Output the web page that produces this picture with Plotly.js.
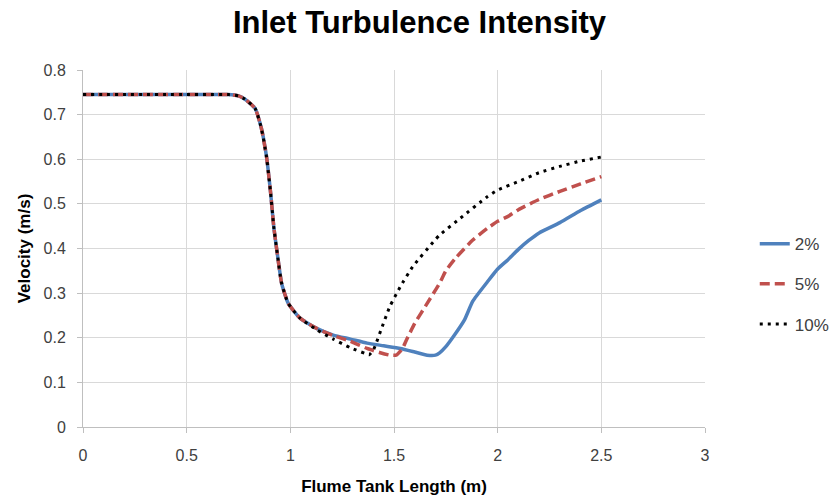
<!DOCTYPE html>
<html><head><meta charset="utf-8">
<script src="https://cdn.plot.ly/plotly-3.0.1.min.js"></script>
<style>body{margin:0;background:#fff}#chart{width:839px;height:497px}</style>
</head><body><div id="chart"></div>
<script>
const x2 = [0,0.1,0.2,0.3,0.4,0.5,0.6,0.7,0.75,0.78,0.83,0.86,0.885,0.905,0.92,0.937,0.958,0.99,1.047,1.127,1.207,1.29,1.37,1.45,1.53,1.6,1.66,1.7,1.72,1.75,1.79,1.84,1.88,1.95,2.0,2.05,2.1,2.15,2.2,2.3,2.4,2.5];
const v2 = [0.745,0.745,0.745,0.745,0.745,0.745,0.745,0.745,0.742,0.735,0.714,0.67,0.606,0.524,0.449,0.389,0.322,0.277,0.244,0.221,0.206,0.197,0.188,0.182,0.176,0.168,0.161,0.161,0.166,0.18,0.205,0.24,0.282,0.325,0.354,0.375,0.398,0.418,0.435,0.458,0.485,0.509];
const x5 = [0,0.1,0.2,0.3,0.4,0.5,0.6,0.7,0.75,0.78,0.83,0.86,0.885,0.905,0.92,0.937,0.958,0.99,1.047,1.127,1.207,1.29,1.37,1.43,1.48,1.51,1.54,1.56,1.6,1.66,1.72,1.75,1.8,1.88,1.95,2.0,2.05,2.1,2.2,2.3,2.4,2.5];
const v5 = [0.745,0.745,0.745,0.745,0.745,0.745,0.745,0.745,0.742,0.735,0.714,0.67,0.606,0.524,0.449,0.389,0.322,0.277,0.244,0.221,0.205,0.192,0.176,0.167,0.161,0.161,0.175,0.195,0.232,0.277,0.322,0.35,0.38,0.419,0.445,0.461,0.472,0.487,0.51,0.528,0.545,0.561];
const x10 = [0,0.1,0.2,0.3,0.4,0.5,0.6,0.7,0.75,0.78,0.83,0.86,0.885,0.905,0.92,0.937,0.958,0.99,1.047,1.127,1.207,1.288,1.36,1.38,1.4,1.44,1.48,1.53,1.59,1.69,1.72,1.82,1.95,2.0,2.1,2.2,2.3,2.4,2.5];
const v10 = [0.745,0.745,0.745,0.745,0.745,0.745,0.745,0.745,0.742,0.735,0.714,0.67,0.606,0.524,0.449,0.389,0.322,0.277,0.244,0.218,0.197,0.178,0.165,0.162,0.172,0.221,0.27,0.314,0.359,0.415,0.43,0.468,0.516,0.531,0.55,0.57,0.584,0.596,0.605];
const names = ['2%','5%','10%'];

const font = 'Liberation Sans, Arial, sans-serif';
const traces = [
  {x:x2,y:v2,name:names[0],mode:'lines',legendgroup:'a',line:{color:'#4f81bd',width:3.5,shape:'spline',smoothing:0.5}},
  {x:x5,y:v5,name:names[1],mode:'lines',legendgroup:'b',line:{color:'#c0504d',width:3.5,dash:'10px,5px',shape:'spline',smoothing:0.5}},
  {x:x10,y:v10,name:names[2],mode:'lines',legendgroup:'c',line:{color:'#000000',width:3,dash:'3px,5px',shape:'spline',smoothing:0.5}}
];
const layout = {
  width:839,height:497,
  paper_bgcolor:'#fff',plot_bgcolor:'#fff',
  margin:{l:83,r:134,t:70,b:70,autoexpand:false},
  title:{text:'<b>Inlet Turbulence Intensity</b>',font:{family:font,size:31,color:'#000'},x:0.5,xanchor:'center',y:0.955,yanchor:'middle'},
  xaxis:{range:[0,3],dtick:0.5,tick0:0,showgrid:true,gridcolor:'#d9d9d9',zeroline:false,
    showline:true,linecolor:'#bfbfbf',linewidth:1,ticks:'outside',ticklen:5,tickcolor:'#bfbfbf',
    ticklabelstandoff:9,automargin:false,
    tickfont:{family:font,size:16,color:'#404040'},
    title:{text:'<b>Flume Tank Length (m)</b>',font:{family:font,size:17,color:'#000'},standoff:16}},
  yaxis:{range:[0,0.8],dtick:0.1,tick0:0,showgrid:true,gridcolor:'#d9d9d9',zeroline:false,
    showline:true,linecolor:'#bfbfbf',linewidth:1,ticks:'outside',ticklen:5,tickcolor:'#bfbfbf',
    ticklabelstandoff:8,automargin:false,
    tickfont:{family:font,size:16,color:'#404040'},tickformat:'.1~f',
    title:{text:'<b>Velocity (m/s)</b>',font:{family:font,size:17,color:'#000'},standoff:8}},
  legend:{x:1.08,xanchor:'left',y:0.40,yanchor:'middle',font:{family:font,size:17,color:'#404040'},tracegroupgap:15,bgcolor:'rgba(0,0,0,0)'},
  showlegend:true
};
Plotly.newPlot('chart',traces,layout,{displayModeBar:false,staticPlot:true});
</script></body></html>
